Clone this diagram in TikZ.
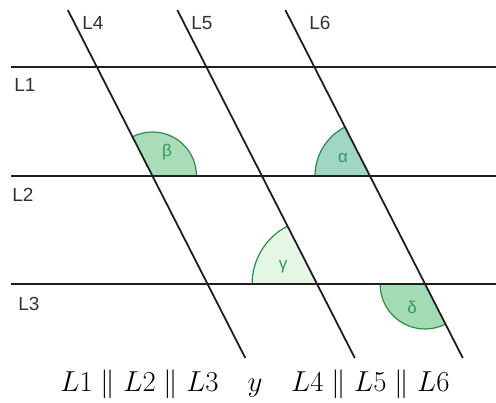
\documentclass[tikz,border=0pt]{standalone}
\usepackage{fontspec}
\newfontfamily\labfont{Liberation Sans}
\definecolor{fb}{RGB}{169,221,186}
\definecolor{fa}{RGB}{160,214,196}
\definecolor{fg}{RGB}{228,246,228}
\definecolor{fd}{RGB}{163,220,180}
\definecolor{gs}{RGB}{45,140,75}
\definecolor{gt}{RGB}{55,150,90}
\definecolor{lt}{RGB}{50,50,50}
\begin{document}
\begin{tikzpicture}[x=1pt,y=1pt,
  ln/.style={line width=1.8pt,draw=black!88},
  lbl/.style={font=\labfont\fontsize{19}{21}\selectfont,text=lt},
  ang/.style={draw=gs,line width=1.2pt},
  glbl/.style={font=\labfont\fontsize{17}{19}\selectfont,text=gt}]
\useasboundingbox (0,0) rectangle (496,403);
% horizontal lines
\coordinate (h1a) at (11,336); \coordinate (h1b) at (496,336);
\coordinate (h2a) at (11,227); \coordinate (h2b) at (496,227);
\coordinate (h3a) at (11,119); \coordinate (h3b) at (496,119);
% slanted lines
\coordinate (s4a) at (67.8,393); \coordinate (s4b) at (245.3,45);
\coordinate (s5a) at (177.3,393); \coordinate (s5b) at (354.8,45);
\coordinate (s6a) at (285.3,393); \coordinate (s6b) at (462.8,45);
% intersections
\coordinate (B) at (152.5,227);
\coordinate (A) at (370,227);
\coordinate (G) at (317.1,119);
\coordinate (D) at (425.1,119);
% angle sectors
\fill[fb] (B) -- ++(0:44) arc (0:117:44) -- cycle;
\draw[ang] (B) ++(0:44) arc (0:117:44);
\fill[fa] (A) -- ++(117:55) arc (117:180:55) -- cycle;
\draw[ang] (A) ++(117:55) arc (117:180:55);
\fill[fg] (G) -- ++(117:65) arc (117:180:65) -- cycle;
\draw[ang] (G) ++(117:65) arc (117:180:65);
\fill[fd] (D) -- ++(180:45) arc (180:297:45) -- cycle;
\draw[ang] (D) ++(180:45) arc (180:297:45);
% lines
\draw[ln] (h1a) -- (h1b);
\draw[ln] (h2a) -- (h2b);
\draw[ln] (h3a) -- (h3b);
\draw[ln] (s4a) -- (s4b);
\draw[ln] (s5a) -- (s5b);
\draw[ln] (s6a) -- (s6b);
% labels
\node[lbl] (tL4) at (93,380) {L4};
\node[lbl] (tL5) at (202,380) {L5};
\node[lbl] (tL6) at (320,380) {L6};
\node[lbl] (tL1) at (25,318) {L1};
\node[lbl] (tL2) at (23,208) {L2};
\node[lbl] (tL3) at (29,99) {L3};
\node[glbl] (tb) at (167,251) {β};
\node[glbl] (ta) at (343,245) {α};
\node[glbl] (tg) at (283,136) {γ};
\node[glbl] (td) at (412,96) {δ};
\node[anchor=base,scale=1.16,font=\fontsize{24.88}{28}\selectfont] (cap) at (255,11)
  {$L1 \parallel L2 \parallel L3 \quad y \quad L4 \parallel L5 \parallel L6$};
\end{tikzpicture}
\end{document}
